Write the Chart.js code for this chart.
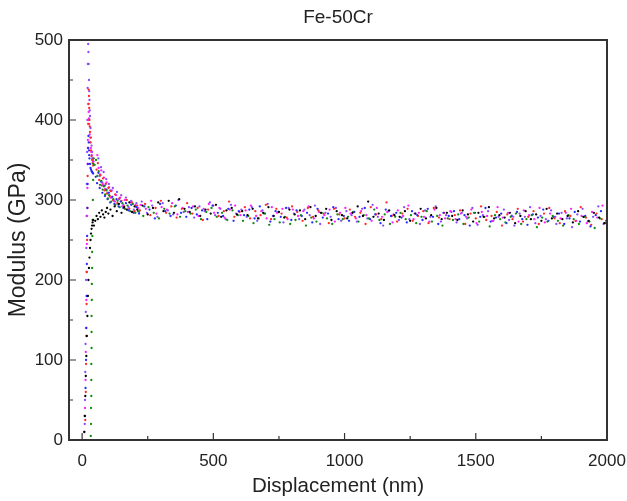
<!DOCTYPE html>
<html><head><meta charset="utf-8">
<script src="https://cdn.jsdelivr.net/npm/chart.js@4/dist/chart.umd.min.js"></script>
<style>html,body{margin:0;padding:0;background:#fff}#wrap{width:627px;height:501px}</style>
</head><body><div id="wrap"><canvas id="c" width="627" height="501"></canvas></div>
<script>
const chartTitle = "Fe-50Cr";
const xTitle = "Displacement (nm)";
const yTitle = "Modulus (GPa)";
const xTicks = [0, 500, 1000, 1500, 2000];
const xMinorTicks = [250, 750, 1250, 1750];
const yTicks = [0, 100, 200, 300, 400, 500];
const yMinorTicks = [50, 150, 250, 350, 450];

// shared displacement grid for the post-peak part (nm)
const dispPlateau = [45,50,55,60,65,70,75,80,85,90,95,100,108,116,124,132,140,150,160,170,180,190,200,
210,230,250,270,290,310,330,350,370,390,410,430,450,470,490,510,530,550,570,590,
610,630,650,670,690,710,730,750,770,790,810,830,850,870,890,910,930,950,970,990,
1010,1030,1050,1070,1090,1110,1130,1150,1170,1190,1210,1230,1250,1270,1290,1310,1330,1350,1370,1390,
1410,1430,1450,1470,1490,1510,1530,1550,1570,1590,1610,1630,1650,1670,1690,1710,1730,1750,1770,1790,
1810,1830,1850,1870,1890,1910,1930,1950,1970,1990];
// start displacement of each test's sampling grid (nm): black, green, blue, red, magenta, violet
const dispStart = [0, 3, 7, 10, 13, 17];

// initial contact segments
const loadDispViolet = [10,11,12,13,14,15,16,17,18,19,20,21,22,23,24,25,26,27,28,29,30,32,34,36,38,40,42];
const loadModViolet  = [20,50,85,120,160,200,240,280,320,360,400,440,470,495,485,470,450,436,425,412,405,390,378,368,360,352,348];
const loadDispRed = [12,14,15,16,17,18,19,20,21,22,23,24,25,26,27,28,29,30,31,32,34,36,38,40,42];
const loadModRed  = [25,60,95,130,170,210,250,290,330,365,395,420,438,430,415,400,392,385,378,372,362,355,350,346,343];
const loadDispMagenta = [9,11,13,14,15,16,17,18,19,20,21,22,23,24,25,26,27,29,31,33,35,37,39,41,43];
const loadModMagenta  = [10,40,75,110,140,175,210,245,280,315,345,375,400,420,410,402,395,382,372,365,360,356,352,350,348];
const loadDispBlue = [11,13,15,16,17,18,19,20,21,22,23,24,25,26,27,28,30,32,34,36,38,40,42];
const loadModBlue  = [30,65,100,140,180,220,255,290,320,345,365,380,372,362,356,352,345,340,338,336,335,334,333];
const loadDispGreen = [33,34,34,35,35,35,36,36,36,37,37,38,38,39,40,41,42,43,44];
const loadModGreen  = [5,20,40,55,75,95,115,135,155,175,195,215,235,255,275,300,325,345,352];
const loadDispBlack = [8,10,12,14,16,18,20,22,24,26,28,30,32,34,36,38,40,42];
const loadModBlack  = [10,30,55,80,105,130,155,180,200,215,228,240,250,258,264,268,272,275];

// modulus on the shared grid (GPa)
const modViolet = [352,330,341,322,335,318,326,309,320,312,303,315,298,310,301,306,294,303,291,299,288,296,285,
298,284,293,279,296,287,282,300,285,291,
278,292,286,297,281,289,276,294,283,288,
279,291,274,287,295,280,285,272,290,283,
276,288,281,293,270,284,279,290,274,286,
281,273,289,277,294,279,268,286,282,275,
291,276,283,270,287,279,292,273,281,285,
272,284,277,290,269,281,286,274,279,288,
275,268,283,279,291,271,280,276,287,270,
284,277,266,282,289,273,279,292,270,278];
const modRed = [338,346,325,331,318,327,312,320,308,315,305,311,300,307,296,302,299,292,300,289,297,286,293,
287,295,281,290,299,284,292,278,289,296,
283,290,275,288,293,280,286,298,279,285,
291,277,286,281,294,276,289,283,278,292,
285,274,290,279,287,283,271,289,282,277,
288,279,284,270,291,282,276,297,280,273,
283,289,274,280,286,271,290,278,284,276,
281,287,270,283,277,292,275,280,285,268,
282,276,289,273,279,286,270,283,290,277,
271,286,280,274,291,278,269,283,276,288];
const modBlue = [329,321,334,315,323,309,318,305,313,301,309,297,304,295,301,292,298,290,296,287,294,284,291,
283,292,288,277,295,286,280,293,284,279,
290,282,287,276,293,284,280,289,274,286,
281,288,277,292,283,273,286,279,290,275,
287,280,284,272,289,278,283,291,276,280,
274,285,279,290,276,282,271,288,280,284,
278,272,286,281,275,289,279,270,284,280,
286,276,281,268,284,279,290,273,278,283,
271,280,285,276,269,282,278,288,274,279,
283,270,277,285,273,280,267,281,286,274];
const modMagenta = [356,340,332,337,320,328,314,322,309,316,303,312,299,306,295,303,292,300,288,297,285,294,290,
294,289,299,283,291,288,296,282,290,285,
292,280,289,295,284,290,278,288,293,281,
287,293,280,286,277,291,284,289,276,288,
280,286,292,277,285,281,288,273,284,290,
283,277,286,281,274,290,279,285,272,287,
280,293,276,284,279,273,288,281,277,286,
276,283,279,288,271,285,280,274,291,278,
284,279,273,287,281,276,290,272,283,279,
277,284,289,274,280,271,285,278,293,276];
const modGreen = [344,350,330,336,319,324,313,317,307,312,302,306,298,301,294,299,291,296,289,293,286,295,284,
286,280,291,284,277,289,283,292,279,286,
283,288,276,285,290,279,284,275,287,281,
274,280,271,277,283,269,276,272,279,270,
275,281,268,278,273,284,277,270,282,276,
279,285,273,281,277,288,275,282,270,279,
284,276,281,271,279,286,273,280,268,277,
275,282,270,278,284,273,279,267,281,276,
272,279,283,270,276,281,266,278,273,280,
274,268,281,276,270,279,273,265,277,271];
const modBlack = [268,274,280,276,284,279,287,282,278,285,290,283,288,280,292,286,295,284,291,288,297,285,292,
288,293,282,290,297,286,299,284,301,289,
285,292,280,288,283,294,279,287,290,282,
286,281,289,277,284,291,280,285,278,288,
282,287,276,291,280,284,289,275,286,281,
277,284,292,280,298,279,283,275,287,281,
279,286,274,283,289,277,281,290,276,284,
280,275,287,282,273,284,279,291,277,281,
278,284,271,280,286,276,282,274,289,277,
283,276,280,272,286,279,274,284,278,271];

function pts(ld, lm, m, start) {
  const out = [];
  for (let i = 0; i < ld.length; i++) out.push({x: ld[i], y: lm[i]});
  for (let i = 0; i < dispPlateau.length; i++) out.push({x: dispPlateau[i] + start, y: m[i]});
  return out;
}
function ds(label, color, ld, lm, m, start) {
  return {label, data: pts(ld, lm, m, start), backgroundColor: color, borderColor: color,
          pointRadius: 1.15, pointBorderWidth: 0, pointHoverRadius: 0, showLine: false};
}

const frame = {
  id: 'frame',
  afterDraw(chart) {
    const {ctx, chartArea: a, scales} = chart;
    ctx.save();
    ctx.strokeStyle = '#333';
    ctx.lineWidth = 1.2;
    ctx.beginPath();
    xTicks.forEach(v => { const p = scales.x.getPixelForValue(v); ctx.moveTo(p, a.bottom); ctx.lineTo(p, a.bottom - 7); });
    xMinorTicks.forEach(v => { const p = scales.x.getPixelForValue(v); ctx.moveTo(p, a.bottom); ctx.lineTo(p, a.bottom - 4); });
    yTicks.forEach(v => { const p = scales.y.getPixelForValue(v); ctx.moveTo(a.left, p); ctx.lineTo(a.left + 7, p); });
    yMinorTicks.forEach(v => { const p = scales.y.getPixelForValue(v); ctx.moveTo(a.left, p); ctx.lineTo(a.left + 4, p); });
    ctx.stroke();
    ctx.lineWidth = 2;
    ctx.strokeRect(a.left, a.top, a.right - a.left, a.bottom - a.top);
    // chart title centred over the plot area
    ctx.fillStyle = '#222';
    ctx.font = "19px 'Liberation Sans', Arial, sans-serif";
    ctx.textAlign = 'center';
    ctx.textBaseline = 'alphabetic';
    ctx.fillText(chartTitle, (a.left + a.right) / 2, 23);
    ctx.restore();
  }
};

Chart.defaults.font.family = "'Liberation Sans', Arial, sans-serif";
Chart.defaults.color = '#222';

new Chart(document.getElementById('c'), {
  type: 'scatter',
  data: {datasets: [
    ds('Black', '#000000', loadDispBlack, loadModBlack, modBlack, dispStart[0]),
    ds('Green', '#108a10', loadDispGreen, loadModGreen, modGreen, dispStart[1]),
    ds('Blue', '#2a2aff', loadDispBlue, loadModBlue, modBlue, dispStart[2]),
    ds('Red', '#ff2a2a', loadDispRed, loadModRed, modRed, dispStart[3]),
    ds('Magenta', '#ff20ff', loadDispMagenta, loadModMagenta, modMagenta, dispStart[4]),
    ds('Violet', '#8a4aff', loadDispViolet, loadModViolet, modViolet, dispStart[5])
  ]},
  options: {
    responsive: false, animation: false, events: [],
    layout: {padding: {left: 0, right: 20, top: 40, bottom: 0}},
    plugins: {
      legend: {display: false}, tooltip: {enabled: false}, title: {display: false}
    },
    scales: {
      x: {
        type: 'linear', min: -50, max: 2000,
        afterBuildTicks: s => { s.ticks = xTicks.map(v => ({value: v})); },
        afterFit: s => { s.height = 61; s.paddingLeft = 0; s.paddingRight = 0; },
        grid: {display: false, drawTicks: false},
        border: {display: false},
        ticks: {font: {size: 17}, color: '#222', padding: 11, maxRotation: 0, callback: v => String(v)},
        title: {display: true, text: xTitle, font: {size: 20.5}, color: '#222', padding: {top: 0, bottom: 2}}
      },
      y: {
        type: 'linear', min: 0, max: 500,
        afterBuildTicks: s => { s.ticks = yTicks.map(v => ({value: v})); },
        afterFit: s => { s.width = 69; s.paddingTop = 0; s.paddingBottom = 0; },
        grid: {display: false, drawTicks: false},
        border: {display: false},
        ticks: {font: {size: 17}, color: '#222', padding: 6, callback: v => String(v)},
        title: {display: true, text: yTitle, font: {size: 23}, color: '#222', padding: {top: 5, bottom: 0}}
      }
    }
  },
  plugins: [frame]
});
</script></body></html>
